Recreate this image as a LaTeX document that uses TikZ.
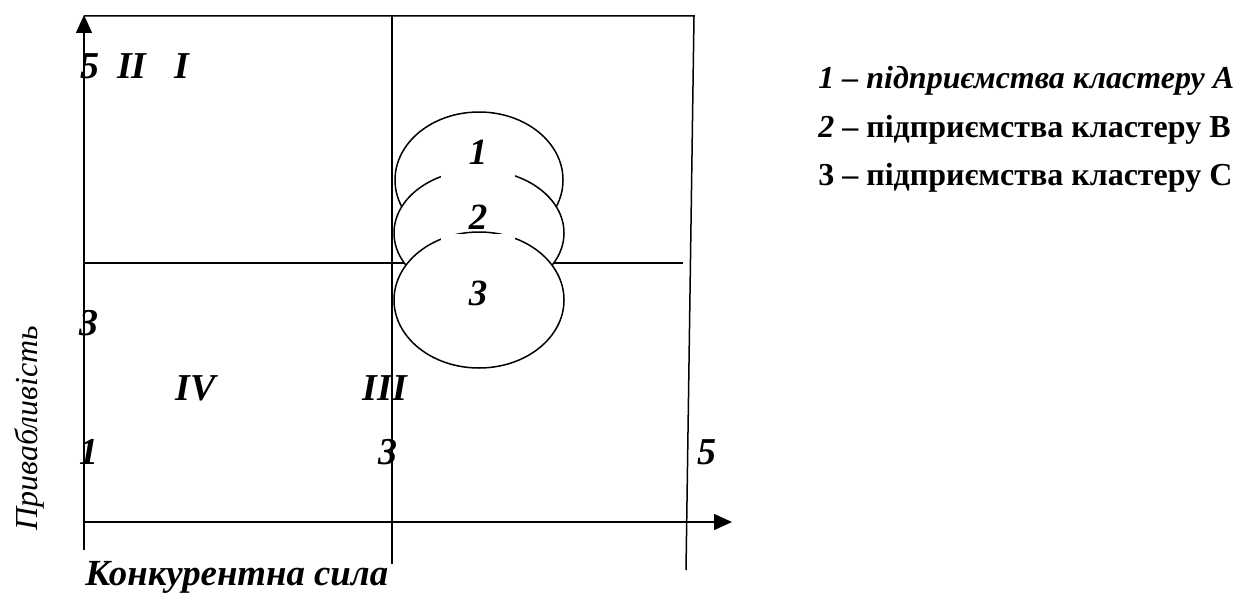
\documentclass[tikz,border=0pt]{standalone}
\usepackage{fontspec}
\setmainfont{Liberation Serif}
\usetikzlibrary{arrows.meta,shapes.geometric}
\begin{document}
\begin{tikzpicture}[x=0.5pt,y=-0.5pt,
  ln/.style={line width=0.75pt, black},
  ax/.style={ln,-{Triangle[length=9pt,width=8pt]}},
  lab/.style={font=\fontsize{19}{21}\selectfont\bfseries\itshape, inner sep=0pt},
  cl/.style={ln, ellipse, draw, fill=white, inner sep=0pt},
  gap/.style={fill=white, draw=none, inner sep=0pt},
  cnum/.style={font=\fontsize{18.5}{20}\selectfont\bfseries\itshape, inner sep=0pt},
  leg/.style={font=\fontsize{16}{18}\selectfont\bfseries, anchor=base west, inner sep=0pt}]
\useasboundingbox (0,0) rectangle (1240,599);
\coordinate (O) at (84,522);
\coordinate (Ybot) at (84,550);
\coordinate (Ytop) at (84,15);
\coordinate (Xend) at (732,522);
\coordinate (TL) at (84,16);
\coordinate (TR) at (694,16);
\coordinate (BR) at (686,570);
\coordinate (Mtop) at (392,16);
\coordinate (Mbot) at (392,564);
\coordinate (Hl) at (84,263);
\coordinate (Hr) at (683,263);
\draw[ax] (Ybot) -- (Ytop);
\draw[ax] (O) -- (Xend);
\draw[ln] (TL) -- (TR) -- (BR);
\draw[ln] (Mtop) -- (Mbot);
\draw[ln] (Hl) -- (Hr);
% clusters
\node[cl, minimum width=84pt, minimum height=68pt] (e1) at (479,180) {};
\node[cnum] (n1) at (478,152) {1};
\node[cl, minimum width=85pt, minimum height=63pt] (e2) at (479,233) {};
\node[gap, minimum width=37pt, minimum height=36pt] (g2) at (478,204) {};
\node[cnum] (n2) at (478,217) {2};
\node[cl, minimum width=85pt, minimum height=68pt] (e3) at (479,300) {};
\node[gap, minimum width=37pt, minimum height=36pt] (g3) at (478,270) {};
\node[cnum] (n3) at (478,293) {3};
% axis labels
\node[lab] (y5) at (90,66) {5};
\node[lab] (q2) at (132,66) {II};
\node[lab] (q1) at (182,66) {I};
\node[lab] (y3) at (89,323) {3};
\node[lab] (q4) at (196,388) {IV};
\node[lab] (q3) at (385,388) {III};
\node[lab] (y1) at (89,452) {1};
\node[lab] (x3) at (388,452) {3};
\node[lab] (x5) at (707,452) {5};
\node[rotate=90, inner sep=0pt, font=\fontsize{16}{18}\selectfont\itshape] (ylab) at (29,428) {Привабливість};
\node[anchor=base west, inner sep=0pt, font=\fontsize{18.4}{20}\selectfont\bfseries\itshape] (xlab) at (85,585) {Конкурентна сила};
% legend
\node[leg] (l1) at (818,89) {\itshape 1 – підприємства кластеру А};
\node[leg] (l2) at (818,137) {\itshape 2\upshape{} – підприємства кластеру В};
\node[leg] (l3) at (818,185) {3 – підприємства кластеру С};
\end{tikzpicture}
\end{document}
